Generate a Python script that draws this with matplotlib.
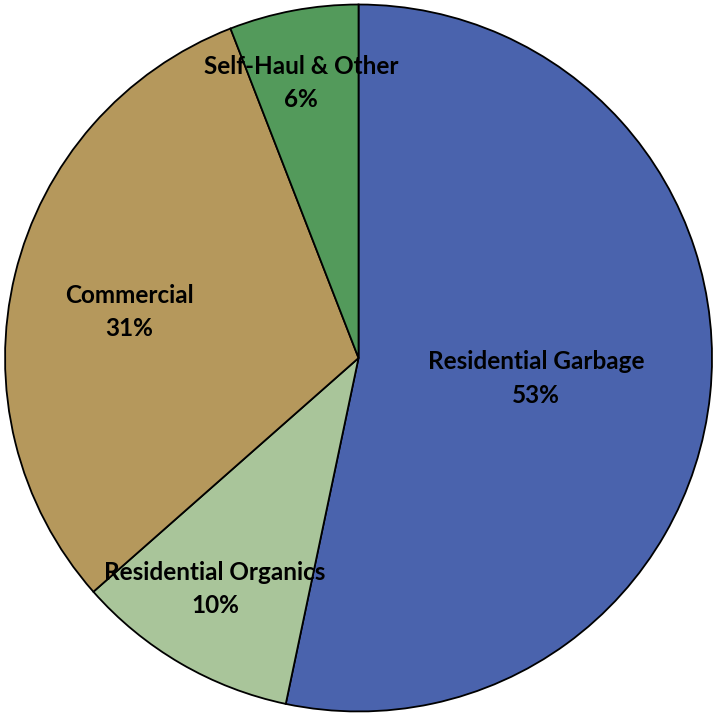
import numpy as np
import matplotlib.pyplot as plt

# ==========================================
# DATA
# ==========================================

labels = ["Residential Garbage", "Residential Organics", "Commercial", "Self-Haul & Other"]
values = [53.3, 10.2, 30.6, 5.9]
pct_text = ["53%", "10%", "31%", "6%"]
colors = ["#4A63AD", "#A9C59A", "#B5985C", "#539A5B"]

# label placement (fraction of radius, angle nudge in degrees)
label_dist = [0.505, 0.77, 0.662, 0.795]
label_nudge = [-0.7, -1.6, 2.4, 1.2]

# ==========================================
# PIE
# ==========================================

fig = plt.figure(figsize=(7.13, 7.14), dpi=100)
ax = fig.add_axes([0.0, 0.0, 1.0, 1.0])

wedges, _ = ax.pie(
    values,
    colors=colors,
    startangle=90,
    counterclock=False,
    wedgeprops={"edgecolor": "black", "linewidth": 1.3},
    radius=1.0,
)

ax.set_xlim(-1.0143, 1.0028)
ax.set_ylim(-1.0057, 1.0113)
ax.set_aspect("equal")

for w, lab, pct, d, nd in zip(wedges, labels, pct_text, label_dist, label_nudge):
    ang = np.deg2rad((w.theta1 + w.theta2) / 2 + nd)
    x = d * np.cos(ang)
    y = d * np.sin(ang)
    ax.text(x, y, lab + "\n" + pct, ha="center", va="center",
            fontsize=17.5, fontweight="bold", family="Lato",
            linespacing=1.55, color="black")

plt.savefig("out.png", dpi=100)
